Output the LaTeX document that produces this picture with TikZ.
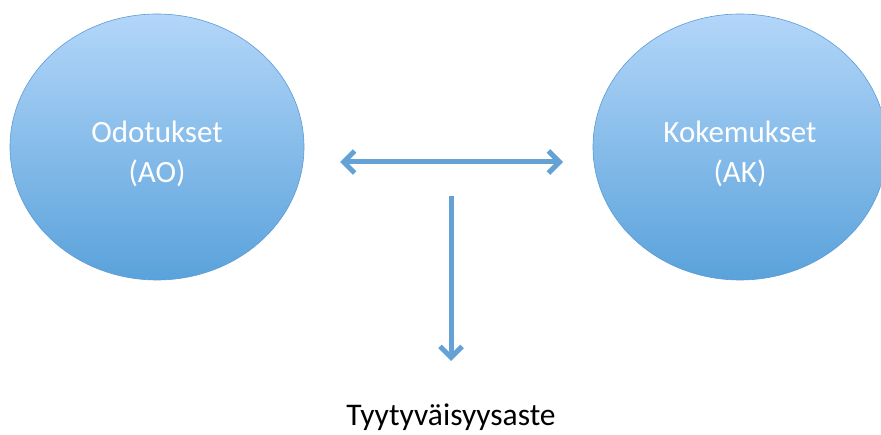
\documentclass[tikz,border=0pt]{standalone}
\usepackage{fontspec}
\setmainfont{Carlito}
\usetikzlibrary{shapes.geometric,arrows.meta}
\definecolor{ctop}{HTML}{B3D6F9}
\definecolor{cbot}{HTML}{5AA2DB}
\definecolor{cedge}{HTML}{5B9BD5}
\definecolor{carrow}{HTML}{64A2D6}
\tikzset{
  bubble/.style={ellipse, top color=ctop, bottom color=cbot, draw=cedge, line width=0.6pt,
    minimum width=294pt, minimum height=266pt, inner sep=0pt},
  lbl/.style={text=white, font=\fontsize{31}{40}\selectfont, align=center},
  conn/.style={draw=carrow, line width=5pt},
  >={Straight Barb[length=11pt,width=22pt,line width=5pt]}
}
\begin{document}
\begin{tikzpicture}[x=1pt,y=-1pt]
\useasboundingbox (0,0) rectangle (881,435);
\begin{scope}
\clip (0,0) rectangle (881,435);
\node[bubble] (ao) at (157,147) {};
\node[bubble] (ak) at (740,147) {};
\end{scope}
\node[lbl] (aot) at (157,154) {Odotukset\\(AO)};
\node[lbl] (akt) at (740,154) {Kokemukset\\(AK)};
\coordinate (hl) at (340,162);
\coordinate (hr) at (563,162);
\coordinate (vt) at (451,196);
\coordinate (vb) at (451,361);
\draw[conn, <->] (hl) -- (hr);
\draw[conn, ->] (vt) -- (vb);
\node[font=\fontsize{31.5}{36}\selectfont, anchor=base] (ty) at (451,425) {Tyytyväisyysaste};
\end{tikzpicture}
\end{document}
